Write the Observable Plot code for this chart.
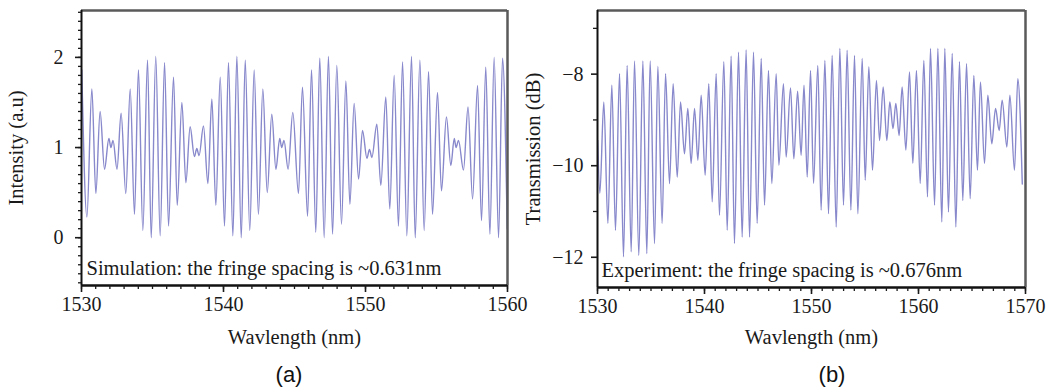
<!DOCTYPE html>
<html><head><meta charset="utf-8">
<script src="https://cdn.jsdelivr.net/npm/d3@7"></script>
<script src="https://cdn.jsdelivr.net/npm/@observablehq/plot@0.6"></script>
<style>
body{margin:0;background:#fff;}
#wrap{position:relative;width:1056px;height:391px;overflow:hidden;background:#fff;}
.panel{position:absolute;top:0;}
.cap{position:absolute;font-family:"Liberation Sans",Arial,sans-serif;font-size:22px;color:#111;transform:translate(-50%,-50%);}
</style></head><body>
<div id="wrap">
  <div id="pa" class="panel" style="left:0px"></div>
  <div id="pb" class="panel" style="left:520px"></div>
  <div class="cap" style="left:289px;top:375px">(a)</div>
  <div class="cap" style="left:832px;top:375px">(b)</div>
</div>
<script>
// ---- Panel (a): simulation, extrema (wavelength nm, intensity a.u.)
const simWavelength = [1530.02,1530.38,1530.73,1531.01,1531.31,1531.62,1531.93,1532.07,1532.22,1532.50,1532.79,1533.12,1533.43,1533.73,1534.01,1534.32,1534.65,1534.91,1535.23,1535.54,1535.85,1536.13,1536.48,1536.74,1537.07,1537.35,1537.65,1537.95,1538.12,1538.28,1538.59,1538.90,1539.18,1539.46,1539.77,1540.07,1540.35,1540.66,1540.94,1541.25,1541.53,1541.85,1542.16,1542.46,1542.77,1543.08,1543.40,1543.69,1543.96,1544.10,1544.26,1544.55,1544.88,1545.28,1545.56,1545.92,1546.20,1546.50,1546.78,1547.09,1547.39,1547.68,1547.98,1548.31,1548.62,1548.90,1549.20,1549.51,1549.79,1550.10,1550.28,1550.45,1550.80,1551.08,1551.43,1551.71,1552.02,1552.32,1552.61,1552.91,1553.24,1553.50,1553.83,1554.13,1554.44,1554.72,1555.07,1555.35,1555.70,1556.01,1556.25,1556.38,1556.55,1556.90,1557.22,1557.54,1557.89,1558.17,1558.47,1558.76,1559.06,1559.37,1559.65,1559.98];
const simIntensity = [1.86,0.23,1.65,0.49,1.40,0.76,1.10,1.00,1.08,0.76,1.38,0.49,1.65,0.26,1.86,0.08,1.97,0.00,2.01,0.02,1.94,0.13,1.78,0.36,1.50,0.61,1.23,0.90,0.99,0.91,1.24,0.60,1.54,0.36,1.78,0.13,1.94,0.02,2.01,0.00,1.97,0.08,1.86,0.26,1.65,0.50,1.37,0.76,1.10,1.00,1.08,0.76,1.39,0.49,1.67,0.24,1.86,0.06,1.99,0.00,2.01,0.04,1.91,0.15,1.74,0.37,1.49,0.65,1.19,0.88,0.98,0.89,1.26,0.58,1.56,0.32,1.80,0.13,1.95,0.02,2.01,0.00,1.97,0.08,1.84,0.26,1.61,0.52,1.34,0.80,1.10,1.00,1.08,0.75,1.45,0.43,1.69,0.19,1.89,0.04,2.00,0.00,1.99,0.10];

// ---- Panel (b): experiment, extrema (wavelength nm, transmission dB)
const expWavelength = [1530.02,1530.22,1530.59,1530.97,1531.34,1531.68,1532.06,1532.43,1532.77,1533.15,1533.46,1533.86,1534.24,1534.61,1534.92,1535.33,1535.64,1536.04,1536.36,1536.73,1537.07,1537.45,1537.76,1538.13,1538.44,1538.75,1539.07,1539.38,1539.69,1540.06,1540.40,1540.72,1541.09,1541.40,1541.81,1542.12,1542.49,1542.80,1543.18,1543.52,1543.89,1544.21,1544.58,1544.92,1545.30,1545.61,1545.98,1546.29,1546.70,1546.95,1547.38,1547.63,1548.04,1548.35,1548.70,1549.03,1549.30,1549.60,1549.91,1550.19,1550.59,1550.90,1551.25,1551.59,1551.93,1552.31,1552.65,1552.99,1553.33,1553.68,1554.02,1554.33,1554.74,1555.02,1555.36,1555.70,1556.07,1556.36,1556.70,1557.04,1557.32,1557.62,1557.88,1558.19,1558.47,1558.82,1559.16,1559.47,1559.81,1560.16,1560.50,1560.84,1561.12,1561.50,1561.81,1562.18,1562.46,1562.80,1563.15,1563.49,1563.83,1564.14,1564.49,1564.83,1565.17,1565.51,1565.79,1566.17,1566.48,1566.85,1567.20,1567.54,1567.82,1568.26,1568.54,1568.97,1569.28,1569.70];
const expTransmission = [-9.45,-10.60,-8.61,-11.26,-8.24,-11.41,-7.99,-11.99,-7.81,-11.88,-7.71,-11.96,-7.71,-11.92,-7.71,-11.70,-7.83,-11.26,-7.99,-10.39,-8.21,-10.25,-8.61,-9.74,-8.75,-9.95,-8.75,-9.88,-8.46,-10.21,-8.21,-10.79,-7.99,-11.08,-7.73,-11.41,-7.61,-11.70,-7.52,-11.56,-7.47,-11.56,-7.52,-11.26,-7.66,-10.86,-7.92,-10.39,-7.99,-9.99,-8.21,-9.81,-8.30,-9.85,-8.37,-9.77,-8.24,-10.25,-7.92,-10.39,-7.81,-10.97,-7.70,-11.05,-7.59,-11.34,-7.44,-10.86,-7.48,-10.97,-7.59,-11.05,-7.66,-10.32,-7.84,-10.10,-8.14,-9.45,-8.28,-9.45,-8.61,-9.19,-8.64,-9.34,-8.28,-9.66,-7.95,-9.95,-7.92,-10.39,-7.70,-10.68,-7.44,-10.86,-7.44,-11.23,-7.44,-11.01,-7.55,-11.34,-7.73,-10.76,-7.77,-10.72,-8.03,-10.10,-8.17,-9.95,-8.46,-9.52,-8.75,-9.23,-8.57,-9.59,-8.46,-10.10,-8.10,-10.40];

// ---- Axis ticks and texts
const simXTicks = [1530, 1540, 1550, 1560];
const simYTicks = [0, 1, 2];
const expXTicks = [1530, 1540, 1550, 1560, 1570];
const expYTicks = [-12, -10, -8];
const expYMinor = [-11, -9, -7];
const simYLabel = "Intensity (a.u)";
const expYLabel = "Transmission (dB)";
const xLabel = "Wavlength (nm)";
const simNote = "Simulation: the fringe spacing is ~0.631nm";
const expNote = "Experiment: the fringe spacing is ~0.676nm";

const lineColor = "#8888cc";
const serif = "'Liberation Serif','Times New Roman',serif";

function panel(o) {
  const data = o.wl.map((w, i) => ({w, v: o.val[i]}));
  const [x0, x1] = o.xDomain, [y0, y1] = o.yDomain;
  const xMinor = d3.range(x0, x1 + 0.001, 1);
  return Plot.plot({
    width: o.width, height: o.height,
    marginLeft: o.ml, marginRight: o.mr, marginTop: o.mt, marginBottom: o.mb,
    x: {domain: o.xDomain}, y: {domain: o.yDomain},
    style: {fontFamily: serif, fontSize: "20px", color: "#1a1a1a", background: "transparent", overflow: "visible"},
    marks: [
      Plot.line(data, {x: "w", y: "v", stroke: lineColor, strokeWidth: 1.4, curve: "monotone-x", clip: true}),
      Plot.ruleY([y1], {stroke: "#5a5a5a", strokeWidth: 2.5}),
      Plot.ruleX([x1], {stroke: "#5a5a5a", strokeWidth: 2.5}),
      Plot.ruleX([x0], {stroke: "#111", strokeWidth: 2}),
      Plot.ruleY([y0], {stroke: "#111", strokeWidth: 2.5}),
      Plot.axisX({ticks: o.xMajor, tickSize: 7, tickPadding: 4, tickFormat: d => String(d), label: null, strokeWidth: 1.6}),
      Plot.axisX({ticks: xMinor, tickSize: 4, tickFormat: () => "", label: null, strokeWidth: 1.3}),
      Plot.axisY({ticks: o.yMajor, tickSize: 6, tickPadding: o.yPad, tickFormat: o.yFormat, label: null, strokeWidth: 1.6}),
      Plot.axisY({ticks: o.yMinor, tickSize: o.yMinorSize, tickFormat: () => "", label: null, strokeWidth: 1.3}),
      Plot.text([o.ylabel], {frameAnchor: "left", dx: o.ylabelDx, rotate: -90, text: d => d, fontSize: 20.5, textAnchor: "middle", lineAnchor: "middle"}),
      Plot.text([xLabel], {frameAnchor: "bottom", dy: o.xlabelDy, text: d => d, fontSize: 20.5, textAnchor: "middle", lineAnchor: "middle"}),
      Plot.text([o.note], {frameAnchor: "bottom-left", dx: o.noteDx, dy: -17, text: d => d, fontSize: 20.5, textAnchor: "start", lineAnchor: "middle"})
    ]
  });
}

document.getElementById("pa").append(panel({
  wl: simWavelength, val: simIntensity,
  xDomain: [1530, 1560], yDomain: [-0.53, 2.52],
  xMajor: simXTicks, yMajor: simYTicks,
  yMinor: d3.range(-5, 26).map(d => d / 10), yMinorSize: 3,
  yFormat: d => String(d), yPad: 12,
  width: 525, height: 350, ml: 81, mr: 18, mt: 10, mb: 65,
  ylabel: simYLabel, ylabelDx: -65, xlabelDy: 52, note: simNote, noteDx: 5
}));

document.getElementById("pb").append(panel({
  wl: expWavelength, val: expTransmission,
  xDomain: [1530, 1570], yDomain: [-12.66, -6.61],
  xMajor: expXTicks, yMajor: expYTicks,
  yMinor: expYMinor, yMinorSize: 4,
  yFormat: d => "\u2212" + Math.abs(d), yPad: 8,
  width: 536, height: 350, ml: 77, mr: 31, mt: 10, mb: 63,
  ylabel: expYLabel, ylabelDx: -64, xlabelDy: 50, note: expNote, noteDx: 4
}));
</script>
</body></html>
